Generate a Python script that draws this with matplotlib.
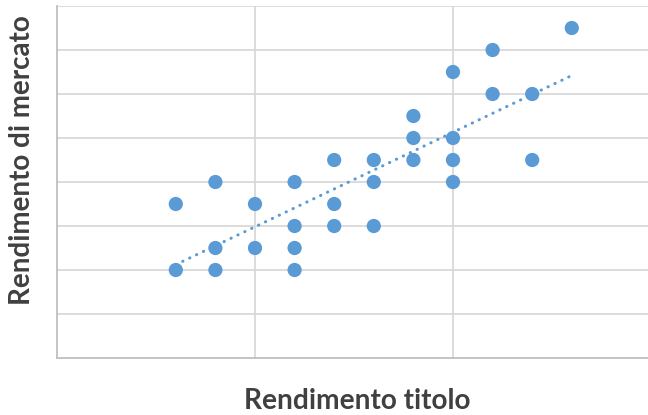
import numpy as np
import matplotlib
matplotlib.use("Agg")
import matplotlib.pyplot as plt

# Rendimento titolo (x) vs rendimento di mercato (y)
rend_titolo = [3, 3, 4, 4, 4, 5, 5, 6, 6, 6, 6, 7, 7, 7, 8, 8, 8,
               9, 9, 9, 10, 10, 10, 10, 11, 11, 12, 12, 13]
rend_mercato = [2, 3.5, 4, 2.5, 2, 3.5, 2.5, 4, 3, 2.5, 2, 4.5, 3.5, 3, 4.5, 4, 3,
                5.5, 5, 4.5, 6.5, 5, 4.5, 4, 7, 6, 6, 4.5, 7.5]

x_label = "Rendimento titolo"
y_label = "Rendimento di mercato"

blue = "#5b9bd5"
grid_col = "#d9d9d9"
axis_col = "#bfbfbf"
text_col = "#404040"

fig = plt.figure(figsize=(6.48, 4.15), dpi=100)
W, H = 648, 415
left, right, top, bottom = 57, 648, 6, 358
ax = fig.add_axes([left / W, 1 - bottom / H, (right - left) / W, (bottom - top) / H])

x = np.array(rend_titolo, dtype=float)
y = np.array(rend_mercato, dtype=float)

ax.scatter(x, y, s=105, color=blue, edgecolors="none", zorder=3)

# linear trendline
m, q = np.polyfit(x, y, 1)
xt = np.array([x.min(), x.max()])
ax.plot(xt, m * xt + q, color=blue, lw=2.2, linestyle=(0, (0.1, 2.4)),
        dash_capstyle="round", zorder=2)

ax.set_xlim(0, (right - left) / 39.6)
ax.set_ylim(0, 8)
ax.set_xticks([5, 10])
ax.set_yticks(np.arange(1, 9))
ax.tick_params(length=0, labelbottom=False, labelleft=False)
ax.grid(True, color=grid_col, lw=1.3, zorder=0)
ax.set_axisbelow(True)
for side in ("top", "right"):
    ax.spines[side].set_visible(False)
for side in ("left", "bottom"):
    ax.spines[side].set_color(axis_col)
    ax.spines[side].set_linewidth(1.3)

fig.text(357 / W, 1 - 401 / H, x_label, ha="center", va="center",
         fontsize=20.2, fontweight="bold", family="Lato", color=text_col)
fig.text(22 / W, 1 - 160 / H, y_label, ha="center", va="center", rotation=90,
         fontsize=20, fontweight="bold", family="Lato", color=text_col)

fig.savefig("out.png", dpi=100)
